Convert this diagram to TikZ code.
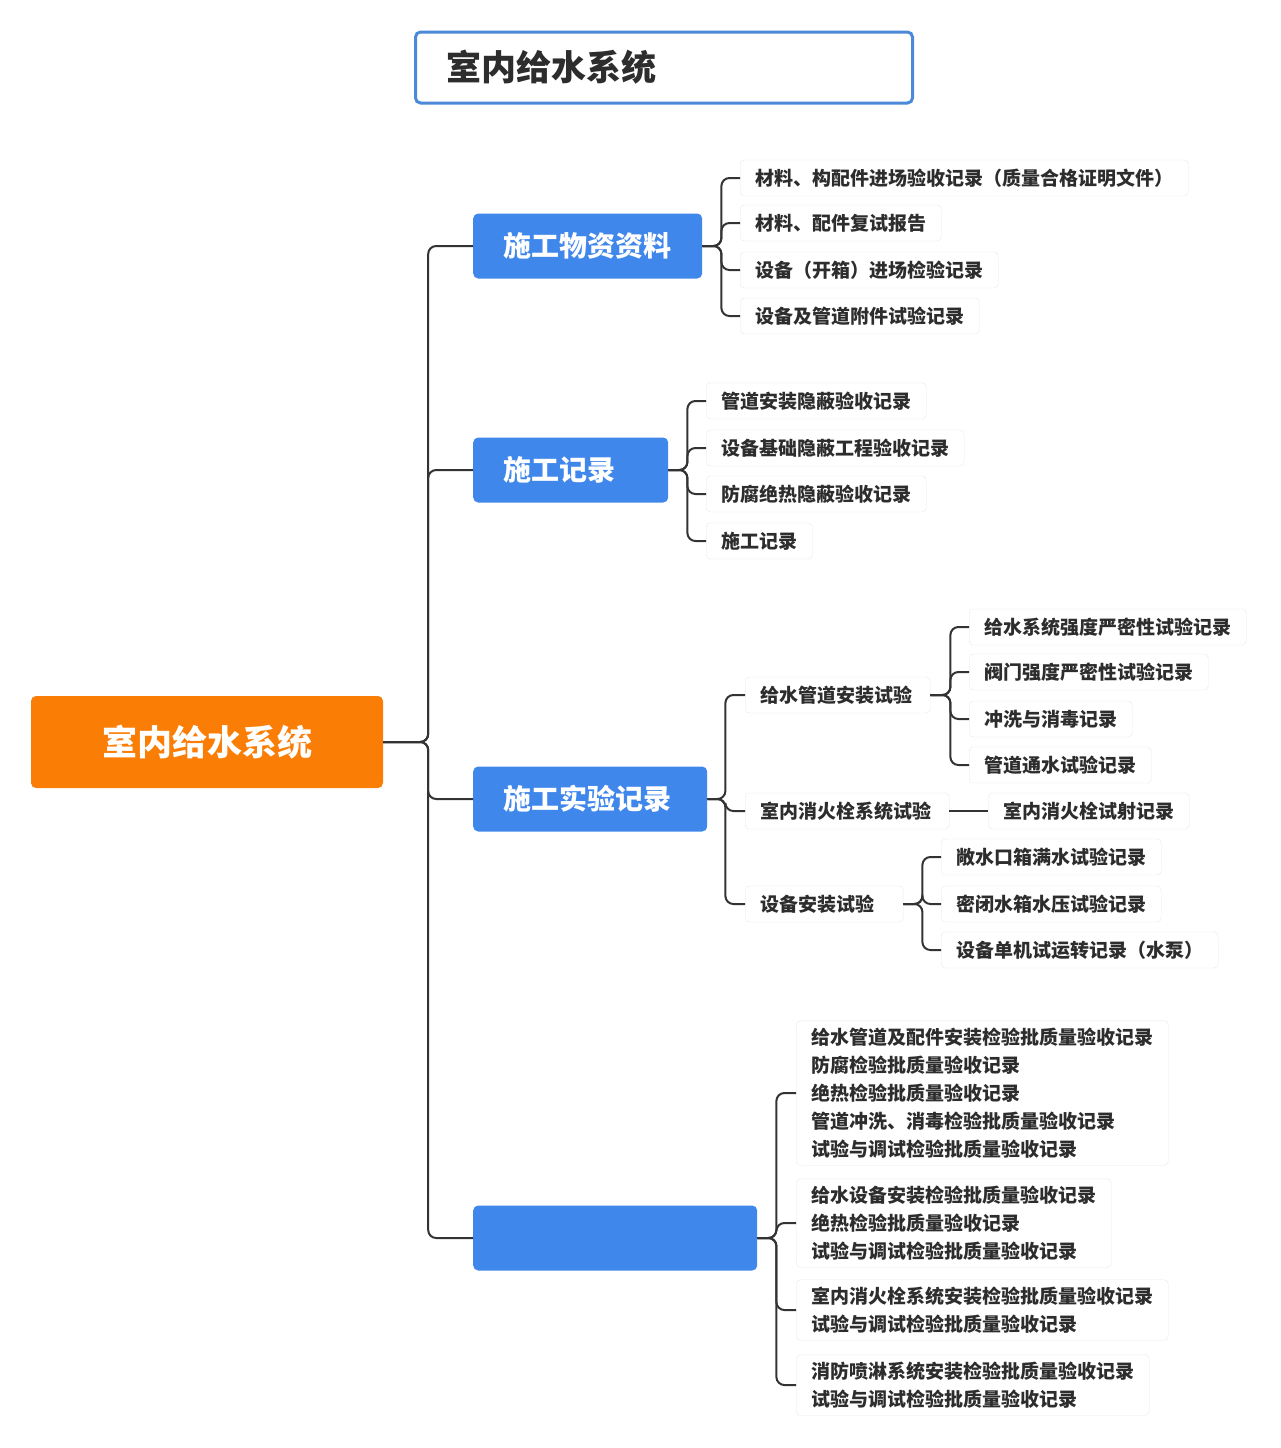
\documentclass[tikz,border=0pt]{standalone}
\usepackage{fontspec}
\setmainfont{Noto Sans CJK SC}
\definecolor{rodOrange}{RGB}{250,125,5}
\definecolor{grenBlaa}{RGB}{64,135,235}
\definecolor{stregGraa}{RGB}{51,51,51}
\definecolor{kantGraa}{RGB}{232,232,232}
\definecolor{titelBlaa}{RGB}{74,138,216}
\definecolor{tekstGraa}{RGB}{45,45,45}

\begin{document}
\begin{tikzpicture}[x=1pt, y=-1pt,
  rod/.style={fill=rodOrange, rounded corners=5, text=white, font=\fontsize{35}{40}\selectfont\bfseries, minimum width=352, minimum height=92},
  gren/.style={fill=grenBlaa, rounded corners=5, text=white, font=\fontsize{28}{32}\selectfont\bfseries, minimum height=65, inner xsep=30, align=left, anchor=west},
  blad/.style={draw=kantGraa, fill=white, rounded corners=4, text=tekstGraa, font=\fontsize{19}{28}\selectfont\bfseries, minimum height=36, inner xsep=15, inner ysep=0, anchor=west},
  bladblok/.style={blad, align=left, inner ysep=7},
  forb/.style={draw=stregGraa, line width=2, rounded corners=8}]
  \useasboundingbox (0,0) rectangle (1280,1448);
  % --- titel ---
  \node[draw=titelBlaa, line width=3, fill=white, rounded corners=5, anchor=west, minimum height=71, inner xsep=31, text width=435, align=left, text=tekstGraa, font=\fontsize{35}{40}\selectfont\bfseries] (titel) at (414,67.5) {室内给水系统};
  % --- rod og grene ---
  \node[rod] (rod) at (207,742) {室内给水系统};
  \node[gren, text width=169] (g1) at (473,246)  {施工物资资料};
  \node[gren, text width=135] (g2) at (473,470)  {施工记录};
  \node[gren, text width=174] (g3) at (473,799)  {施工实验记录};
  \node[gren, text width=224] (g4) at (473,1238) {};
  \foreach \g in {g1,g2,g3,g4}
    \draw[forb] (rod.east) -- ++(45,0) |- (\g.west);
  % --- 施工物资资料 ---
  \node[blad] (m1) at (740,178) {材料、构配件进场验收记录（质量合格证明文件）};
  \node[blad] (m2) at (740,223) {材料、配件复试报告};
  \node[blad] (m3) at (740,270) {设备（开箱）进场检验记录};
  \node[blad] (m4) at (740,316) {设备及管道附件试验记录};
  \foreach \b in {m1,m2,m3,m4}
    \draw[forb] (g1.east) -- ++(19,0) |- (\b.west);
  % --- 施工记录 ---
  \node[blad] (r1) at (706,401) {管道安装隐蔽验收记录};
  \node[blad] (r2) at (706,448) {设备基础隐蔽工程验收记录};
  \node[blad] (r3) at (706,494) {防腐绝热隐蔽验收记录};
  \node[blad] (r4) at (706,541) {施工记录};
  \foreach \b in {r1,r2,r3,r4}
    \draw[forb] (g2.east) -- ++(19,0) |- (\b.west);
  % --- 施工实验记录 ---
  \node[blad, text width=155, align=left] (s1) at (745,695) {给水管道安装试验};
  \node[blad, text width=174, align=left] (s2) at (745,811) {室内消火栓系统试验};
  \node[blad, text width=128, align=left] (s3) at (745,904) {设备安装试验};
  \foreach \b in {s1,s2,s3}
    \draw[forb] (g3.east) -- ++(18,0) |- (\b.west);
  \node[blad] (s11) at (969,627) {给水系统强度严密性试验记录};
  \node[blad] (s12) at (969,672) {阀门强度严密性试验记录};
  \node[blad] (s13) at (969,719) {冲洗与消毒记录};
  \node[blad] (s14) at (969,765) {管道通水试验记录};
  \foreach \b in {s11,s12,s13,s14}
    \draw[forb] (s1.east) -- ++(20,0) |- (\b.west);
  \node[blad] (s21) at (988,811) {室内消火栓试射记录};
  \draw[forb] (s2.east) -- (s21.west);
  \node[blad] (s31) at (941,857) {敞水口箱满水试验记录};
  \node[blad] (s32) at (941,904) {密闭水箱水压试验记录};
  \node[blad] (s33) at (941,950) {设备单机试运转记录（水泵）};
  \foreach \b in {s31,s32,s33}
    \draw[forb] (s3.east) -- ++(19,0) |- (\b.west);
  % --- fjerde gren ---
  \node[bladblok] (k1) at (796,1093) {给水管道及配件安装检验批质量验收记录\\防腐检验批质量验收记录\\绝热检验批质量验收记录\\管道冲洗、消毒检验批质量验收记录\\试验与调试检验批质量验收记录};
  \node[bladblok] (k2) at (796,1223) {给水设备安装检验批质量验收记录\\绝热检验批质量验收记录\\试验与调试检验批质量验收记录};
  \node[bladblok] (k3) at (796,1310) {室内消火栓系统安装检验批质量验收记录\\试验与调试检验批质量验收记录};
  \node[bladblok] (k4) at (796,1385) {消防喷淋系统安装检验批质量验收记录\\试验与调试检验批质量验收记录};
  \foreach \b in {k1,k2,k3,k4}
    \draw[forb] (g4.east) -- ++(19,0) |- (\b.west);
\end{tikzpicture}
\end{document}
